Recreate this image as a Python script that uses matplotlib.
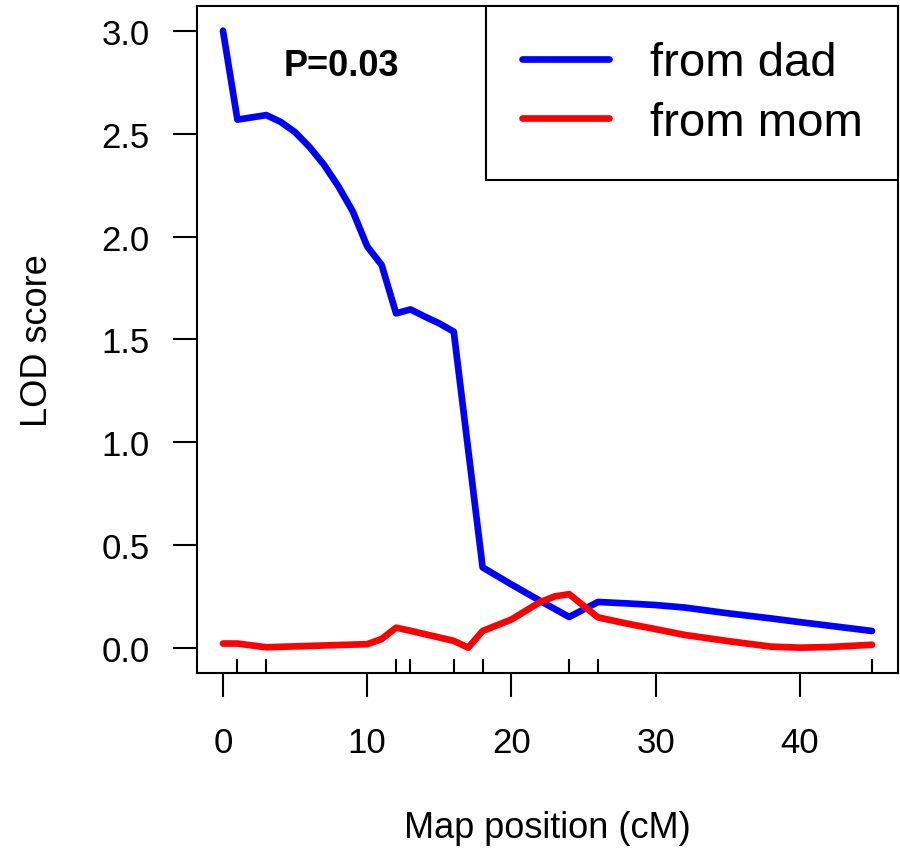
import matplotlib
matplotlib.use('Agg')
import matplotlib.pyplot as plt

plt.rcParams['font.family'] = ['Liberation Sans', 'DejaVu Sans']

# LOD curves (map position in cM)
dad_pos = [0, 1, 3, 4, 5, 6, 7, 8, 9, 10, 11, 12, 13, 14, 15, 16, 18, 20, 22, 24,
           26, 28, 30, 32, 35, 38, 40, 42, 45]
dad_lod = [3.0, 2.568, 2.59, 2.557, 2.507, 2.435, 2.349, 2.244, 2.122, 1.952, 1.862,
           1.627, 1.646, 1.611, 1.578, 1.538, 0.393, 0.31, 0.23, 0.152,
           0.225, 0.218, 0.21, 0.198, 0.17, 0.145, 0.127, 0.11, 0.084]

mom_pos = [0, 1, 3, 10, 11, 12, 13, 16, 17, 18, 20, 22, 23, 24, 26, 28, 30, 32, 35,
           38, 40, 42, 45]
mom_lod = [0.023, 0.023, 0.005, 0.02, 0.045, 0.10, 0.085, 0.036, 0.003, 0.084, 0.14,
           0.225, 0.252, 0.263, 0.15, 0.12, 0.093, 0.065, 0.035, 0.008, 0.003, 0.006,
           0.017]

# marker positions (drawn as inward ticks on the x axis)
marker_pos = [0, 1, 3, 10, 12, 13, 16, 18, 24, 26, 45]

x_ticks = [0, 10, 20, 30, 40]
y_ticks = [0.0, 0.5, 1.0, 1.5, 2.0, 2.5, 3.0]

fig = plt.figure(figsize=(9, 8.54), dpi=100)
ax = fig.add_axes([0.2189, 0.2108, 0.7789, 0.781])

ax.plot(dad_pos, dad_lod, color='#0000ff', lw=4.8, label='from dad',
        solid_capstyle='round', solid_joinstyle='round')
ax.plot(mom_pos, mom_lod, color='#ff0000', lw=4.8, label='from mom',
        solid_capstyle='round', solid_joinstyle='round')

ax.set_xlim(-1.8, 46.8)
ax.set_ylim(-0.12, 3.12)

ax.set_xticks(x_ticks)
ax.set_yticks(y_ticks)
ax.set_yticklabels([f'{v:.1f}' for v in y_ticks])
ax.set_xticks(marker_pos, minor=True)

ax.tick_params(axis='both', which='major', direction='out', length=17, width=1.5,
               labelsize=25)
ax.tick_params(axis='x', which='major', pad=21)
ax.tick_params(axis='y', which='major', pad=17)
ax.tick_params(axis='x', which='minor', direction='in', length=10, width=1.5)
for s in ax.spines.values():
    s.set_linewidth(1.5)

ax.set_xlabel('Map position (cM)', fontsize=26)
ax.xaxis.set_label_coords(0.5, -0.232)
ax.xaxis.label.set_va('center')
ax.set_ylabel('LOD score', fontsize=26)
ax.yaxis.set_label_coords(-0.227, 0.5)
ax.yaxis.label.set_va('center')

ax.text(8.2, 2.83, 'P=0.03', fontsize=26, fontweight='bold', ha='center', va='center')

leg = ax.legend(loc='upper right', bbox_to_anchor=(1, 1), borderaxespad=0,
                fontsize=34, frameon=True, fancybox=False, edgecolor='black',
                framealpha=1, borderpad=0.75, labelspacing=0.33,
                handlelength=1.84, handletextpad=0.87)
leg.get_frame().set_linewidth(1.5)

plt.savefig('out.png', dpi=100)
